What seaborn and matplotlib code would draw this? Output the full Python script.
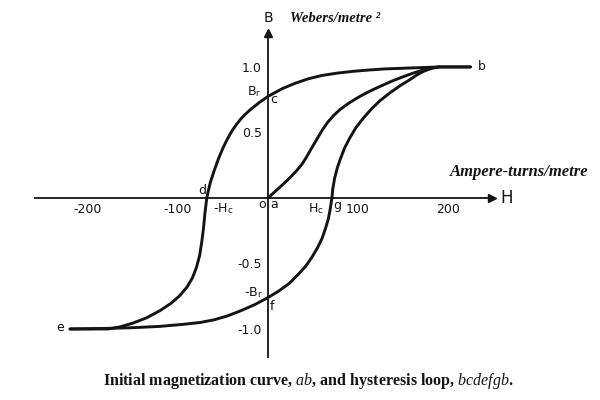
import pandas as pd
import matplotlib
matplotlib.use("Agg")
import matplotlib.pyplot as plt
import seaborn as sns

# data (H in ampere-turns/metre, B in webers/metre^2)
# descending branch b -> c -> d -> e
desc_H = [225, 190, 170, 150, 130, 113, 95, 77, 60, 45, 30, 16, 0, -10, -20, -26,
          -30, -35, -40, -45, -50, -55, -60, -64, -66, -68,
          -70, -71.5, -73.5, -76, -79.5, -84, -90, -98, -108, -120, -135, -150,
          -165, -178, -220]
desc_B = [1.0, 1.0, 0.995, 0.99, 0.985, 0.977, 0.967, 0.953, 0.935, 0.91, 0.875, 0.835,
          0.775, 0.727, 0.672, 0.634, 0.605, 0.562, 0.512, 0.452, 0.382, 0.30, 0.205,
          0.12, 0.065, 0.0, -0.11, -0.22, -0.33, -0.44, -0.53, -0.61, -0.68, -0.745,
          -0.805, -0.86, -0.915, -0.955, -0.985, -1.0, -1.0]

# ascending branch e -> f -> g -> b
asc_H = [-220, -176, -150, -120, -95, -75, -60, -45, -30, -15, 0, 12, 24, 34, 42,
         49, 55, 60, 64, 67, 69, 71, 72, 74, 77, 80, 85, 91, 98, 106, 115, 124,
         135, 147, 157, 166, 174, 182, 190, 225]
asc_B = [-1.0, -0.995, -0.99, -0.98, -0.965, -0.95, -0.93, -0.90, -0.86, -0.815,
         -0.76, -0.71, -0.65, -0.58, -0.52, -0.45, -0.38, -0.31, -0.23, -0.16, -0.09,
         0.0, 0.07, 0.15, 0.23, 0.29, 0.38, 0.46, 0.54, 0.61, 0.68, 0.74, 0.80, 0.858,
         0.90, 0.942, 0.97, 0.99, 1.0, 1.0]

# initial magnetization curve a -> b
init_H = [0, 8, 16, 24, 32, 38, 43, 48, 54, 60, 66, 73, 80, 90, 102, 113, 124,
          137, 150, 160, 170, 180, 190]
init_B = [0, 0.05, 0.10, 0.152, 0.21, 0.26, 0.315, 0.375, 0.445, 0.515, 0.575, 0.63,
          0.675, 0.725, 0.775, 0.815, 0.85, 0.89, 0.925, 0.95, 0.972, 0.99, 1.0]

x_ticks = [-200, -100, 100, 200]
x_tick_labels = ["-200", "-100", "100", "200"]
y_ticks = [1.0, 0.5, -0.5, -1.0]
y_tick_labels = ["1.0", "0.5", "-0.5", "-1.0"]

df = pd.concat([
    pd.DataFrame({"H": desc_H, "B": desc_B, "branch": "bcde"}),
    pd.DataFrame({"H": asc_H, "B": asc_B, "branch": "efgb"}),
    pd.DataFrame({"H": init_H, "B": init_B, "branch": "ab"}),
])

sns.set_style("white")
plt.rcParams["font.family"] = ["DejaVu Sans"]
plt.rcParams["mathtext.fontset"] = "custom"
plt.rcParams["mathtext.rm"] = "DejaVu Sans"
plt.rcParams["mathtext.it"] = "Liberation Serif:italic"

ink = "#141414"
fig = plt.figure(figsize=(6, 4), dpi=100)
ax = fig.add_axes([0, 0, 1, 1])
ax.set_xlim(-297.8, 368.9)
ax.set_ylim(-1.542, 1.511)

sns.lineplot(data=df, x="H", y="B", units="branch", estimator=None, sort=False,
             color=ink, lw=2.1, ax=ax, solid_joinstyle="round", solid_capstyle="round")

# axes through the origin
for s in ["top", "right"]:
    ax.spines[s].set_visible(False)
ax.spines["left"].set_position(("data", 0))
ax.spines["bottom"].set_position(("data", 0))
ax.spines["left"].set_bounds(-1.21, 1.24)
ax.spines["bottom"].set_bounds(-259, 245)
for s in ["left", "bottom"]:
    ax.spines[s].set_color(ink)
    ax.spines[s].set_linewidth(1.3)
ax.plot(0, 1.26, marker="^", color=ink, ms=6, clip_on=False)
ax.plot(249, 0, marker=">", color=ink, ms=6, clip_on=False)

ax.set_xticks(x_ticks)
ax.set_xticklabels(x_tick_labels)
ax.set_yticks(y_ticks)
ax.set_yticklabels(y_tick_labels)
ax.tick_params(axis="x", direction="inout", length=5, width=1, colors=ink, pad=1, labelsize=9)
ax.tick_params(axis="y", direction="inout", length=7, width=1, colors=ink, pad=1, labelsize=9)
ax.set_xlabel("")
ax.set_ylabel("")

# axis titles
ax.text(0, 1.37, "B", ha="center", va="center", fontsize=10, color=ink)
ax.text(24, 1.37, "Webers/metre ²", ha="left", va="center", fontsize=10.5,
        family="Liberation Serif", style="italic", weight="bold", color=ink)
ax.text(202, 0.2, "Ampere-turns/metre", ha="left", va="center", fontsize=12,
        family="Liberation Serif", style="italic", weight="bold", color=ink)
ax.text(258, 0, "H", ha="left", va="center", fontsize=12, color=ink)

# point labels
lab = dict(fontsize=9, color=ink, va="center")
ax.text(238, 1.0, "b", ha="center", **lab)
ax.text(-7, 0.81, r"B$_{\rm r}$", ha="right", **lab)
ax.text(6, 0.75, "c", ha="center", **lab)
ax.text(-73, 0.06, "d", ha="center", **lab)
ax.text(-61, -0.08, r"-H$_{\rm c}$", ha="left", **lab)
ax.text(-7, -0.05, "o", ha="center", **lab)
ax.text(7, -0.05, "a", ha="center", **lab)
ax.text(53, -0.08, r"H$_{\rm c}$", ha="center", **lab)
ax.text(77, -0.06, "g", ha="center", **lab)
ax.text(-6, -0.72, r"-B$_{\rm r}$", ha="right", **lab)
ax.text(4, -0.83, "f", ha="center", **lab)
ax.text(-231, -0.99, "e", ha="center", **lab)

ax.text(45, -1.40, r"Initial magnetization curve, $ab$, and hysteresis loop, $bcdefgb$.",
        ha="center", va="center", fontsize=11.5, family="Liberation Serif",
        weight="bold", color=ink)

fig.savefig("out.png", dpi=100)
